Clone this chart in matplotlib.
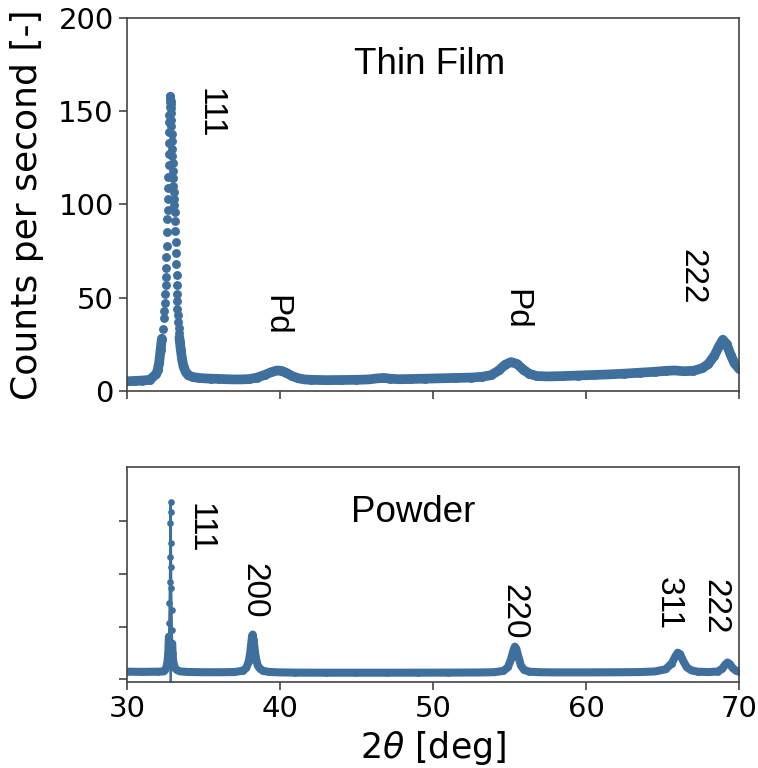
import numpy as np
import matplotlib
matplotlib.use("Agg")
import matplotlib.pyplot as plt

# thin film scan (2theta in deg, counts per second)
tf_2theta = [30.0, 30.5, 31.0, 31.5, 31.9, 32.0, 32.1, 32.2, 32.28, 32.34,
             32.4, 32.43, 32.46, 32.49, 32.52, 32.54, 32.56, 32.58, 32.6, 32.62, 32.64, 32.655,
             32.67, 32.685, 32.7, 32.715, 32.73, 32.745, 32.76, 32.77, 32.78, 32.79, 32.8, 32.81,
             32.82, 32.83, 32.84, 32.85, 32.86, 32.87, 32.88, 32.895, 32.91, 32.925, 32.94,
             32.955, 32.97, 32.985, 33.0, 33.02, 33.04, 33.06, 33.08, 33.1, 33.12, 33.14, 33.16,
             33.18, 33.2, 33.22, 33.24, 33.255, 33.27, 33.285, 33.3, 33.32, 33.34, 33.37, 33.4,
             33.43, 33.46, 33.49, 33.52, 33.56, 33.6, 33.7, 33.85, 34.0, 34.3, 34.7, 35.0,
             35.5, 36.0, 36.5, 37.0, 37.5, 38.0, 38.5, 39.0, 39.4, 39.8, 40.1, 40.4, 40.8, 41.2,
             41.6, 42.0, 43.0, 44.0, 45.0, 45.8, 46.4, 46.8, 47.2, 47.8, 48.5, 49.5, 50.5, 51.5,
             52.5, 53.2, 53.8, 54.3, 54.7, 55.1, 55.5, 55.9, 56.3, 56.8, 57.5, 58.5, 59.5, 60.5,
             61.5, 62.5, 63.5, 64.5, 65.2, 65.8, 66.4, 67.0, 67.6, 68.0, 68.4, 68.7, 68.95, 69.2,
             69.45, 69.7, 70.0]
tf_counts = [5.2, 5.4, 5.6, 6.0, 9.0, 11.0, 15.0, 22.0, 28.0, 33.0,
             39.0, 43.0, 47.0, 52.0, 57.0, 61.0, 66.0, 72.0, 78.0, 85.0, 92.0, 97.0,
             103.0, 109.0, 115.0, 121.0, 127.0, 133.0, 139.0, 144.0, 148.0, 152.0, 155.0, 157.0,
             158.0, 158.0, 157.0, 155.5, 154.0, 151.5, 149.0, 145.5, 142.0, 138.0, 134.0,
             130.0, 126.0, 122.0, 118.0, 114.0, 110.0, 106.5, 103.0, 99.5, 96.0, 91.0, 86.0,
             80.0, 74.0, 68.0, 62.0, 57.0, 52.0, 48.0, 44.0, 40.5, 37.0, 34.0, 31.0,
             28.5, 26.0, 24.0, 22.0, 19.5, 17.0, 13.0, 10.0, 8.5, 7.5, 7.0, 6.8,
             6.6, 6.5, 6.3, 6.2, 6.2, 6.4, 7.2, 8.6, 10.0, 11.0, 10.8, 9.8, 8.0, 6.8,
             6.2, 6.0, 5.8, 5.9, 6.0, 6.2, 6.8, 7.0, 6.6, 6.3, 6.4, 6.6, 6.8, 7.0,
             7.2, 7.6, 8.5, 11.0, 14.0, 15.5, 14.5, 11.5, 9.2, 8.0, 7.8, 8.0, 8.3, 8.6,
             8.9, 9.3, 9.8, 10.3, 10.8, 11.0, 10.6, 10.8, 12.2, 14.5, 19.0, 24.0, 27.5, 25.0,
             19.5, 15.0, 12.0]

# powder reference scan (arbitrary counts, y labels hidden)
pw_2theta = [30.0, 31.0, 32.0, 32.4, 32.5, 32.58, 32.64, 32.68, 32.71, 32.74, 32.76, 32.78,
             32.8, 32.82, 32.84, 32.85, 32.86, 32.87, 32.88, 32.89, 32.9, 32.92, 32.94, 32.96,
             32.98, 33.01, 33.05, 33.1, 33.18, 33.3, 33.5, 34.0, 35.0, 36.0, 37.0, 37.6, 37.8,
             37.95, 38.05, 38.12, 38.18, 38.22, 38.28, 38.36, 38.45, 38.55, 38.7, 38.9, 39.3,
             40.0, 41.0, 43.0, 45.0, 47.0, 49.0, 51.0, 53.0, 54.0, 54.6, 54.9, 55.1, 55.25,
             55.35, 55.45, 55.6, 55.75, 55.95, 56.3, 57.0, 58.0, 60.0, 62.0, 63.5, 64.5, 65.2,
             65.6, 65.85, 66.0, 66.15, 66.35, 66.6, 66.9, 67.3, 68.0, 68.6, 68.9, 69.1, 69.25,
             69.4, 69.6, 69.8, 70.0]
pw_counts = [145, 142, 145, 150, 180, 230, 320, 430, 560, 810, 1060, 1440,
             1850, 2330, 2960, 3370, -100, 3180, 2580, 2140, 1730, 1320, 935, 680,
             500, 380, 300, 240, 200, 170, 150, 140, 135, 135, 138, 165, 220,
             330, 490, 680, 830, 850, 740, 530, 370, 260, 200, 160, 140,
             132, 128, 126, 126, 126, 127, 128, 130, 136, 160, 230, 380, 540,
             620, 580, 410, 260, 180, 145, 135, 132, 132, 134, 138, 150, 190,
             300, 440, 505, 480, 350, 225, 170, 145, 138, 148, 200, 280, 320,
             290, 210, 165, 145]

tf_peaks = ["111", "Pd", "Pd", "222"]
tf_peak_x = [35.4, 39.75, 55.4, 66.95]
tf_peak_y = [149, 40.5, 44, 61]
pw_peaks = ["111", "200", "220", "311", "222"]
pw_peak_x = [34.75, 38.3, 55.3, 65.4, 68.4]
pw_peak_y = [2870, 1675, 1280, 1440, 1370]

col = "#3f6f9d"
lab_font = ["Liberation Sans", "DejaVu Sans"]

plt.rcParams["font.size"] = 21
fig = plt.figure(figsize=(7.58, 7.68), dpi=100)
ax1 = fig.add_axes([0.1675, 0.4909, 0.8074, 0.4857])
ax2 = fig.add_axes([0.1675, 0.112, 0.8074, 0.28], sharex=ax1)

# thin film
tfx = np.array(tf_2theta)
tfy = np.array(tf_counts)
ax1.plot(tfx, np.where(tfy < 30, tfy, np.nan), "-", color=col, lw=7, solid_capstyle="round")
ax1.plot(tfx, tfy, "o", color=col, ms=6.4, mew=0)
ax1.set_ylim(0, 200)
ax1.set_yticks([0, 50, 100, 150, 200])
ax1.set_ylabel("Counts per second [-]", fontsize=26, labelpad=10)
ax1.tick_params(labelbottom=False)
ax1.text(49.8, 175, "Thin Film", ha="center", va="center", fontsize=26.5, family=lab_font)
for s, x, y in zip(tf_peaks, tf_peak_x, tf_peak_y):
    ax1.text(x, y, s, rotation=270, ha="center", va="center", fontsize=24, family=lab_font)

# powder
pwx = np.array(pw_2theta)
pwy = np.array(pw_counts)
ax2.plot(pwx, np.where(pwy < 900, pwy, np.nan), "-", color=col, lw=5.8, solid_capstyle="round")
ax2.plot(pwx, pwy, "-", color=col, lw=1.5)
ax2.plot(pwx, pwy, "o", color=col, ms=4.8, mew=0)
ax2.set_ylim(-50, 4030)
ax2.set_yticks([0, 1000, 2000, 3000])
ax2.set_yticklabels([])
ax2.text(48.7, 3160, "Powder", ha="center", va="center", fontsize=26.5, family=lab_font)
for s, x, y in zip(pw_peaks, pw_peak_x, pw_peak_y):
    ax2.text(x, y, s, rotation=270, ha="center", va="center", fontsize=24, family=lab_font)

ax2.set_xlim(30, 70)
ax2.set_xticks([30, 40, 50, 60, 70])
ax2.set_xlabel(r"2$\theta$ [deg]", fontsize=25)

for ax in (ax1, ax2):
    for sp in ax.spines.values():
        sp.set_color("#444444")
        sp.set_linewidth(1.2)
    ax.tick_params(direction="out", length=6, width=1.2, color="#444444")

fig.savefig("out.png", dpi=100)
